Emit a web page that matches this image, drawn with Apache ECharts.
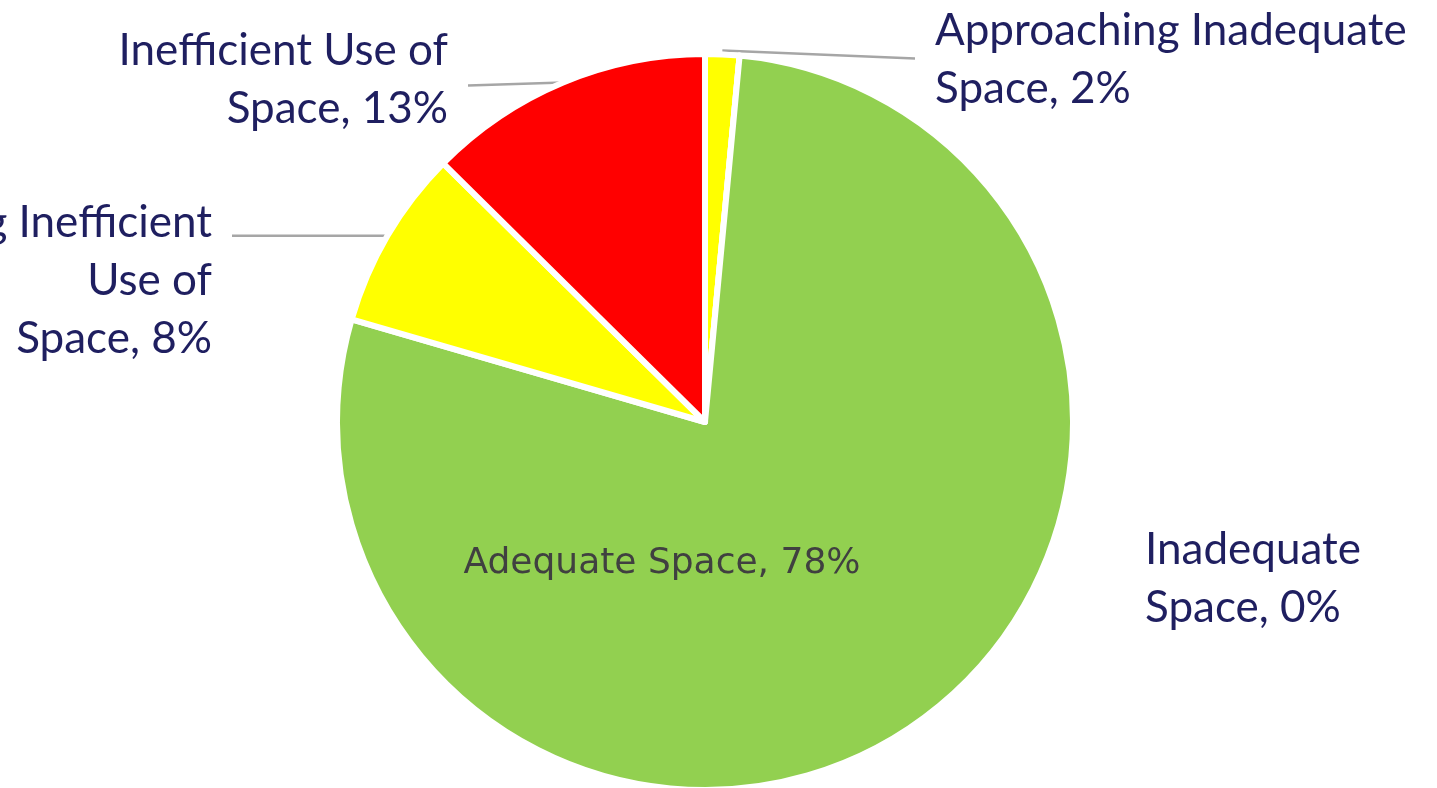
<!DOCTYPE html>
<html><head><meta charset="utf-8">
<script src="https://cdn.jsdelivr.net/npm/echarts@6/dist/echarts.min.js"></script>
<style>html,body{margin:0;padding:0;background:#fff;overflow:hidden}#chart{width:1437px;height:788px}</style>
</head><body><div id="chart"></div>
<script>
// ---- data ----
const categories = [
  'Approaching Inadequate\nSpace',
  'Inadequate\nSpace',
  'Adequate Space',
  'Approaching Inefficient\nUse of\nSpace',
  'Inefficient Use of\nSpace'
];
const shares = [1.5, 0, 78.0, 7.9, 12.6];
const sliceColors = ['#FFFF00', '#FFC000', '#92D050', '#FFFF00', '#FF0000'];

// ---- chart ----
const chart = echarts.init(document.getElementById('chart'), null, {renderer: 'canvas'});
const navy = '#1F1F60';
const data = categories.map((c, i) => {
  const item = { name: c, value: shares[i], itemStyle: { color: sliceColors[i] } };
  if (i === 1) item.labelLine = { show: false };
  if (i === 2) {
    item.labelLine = { show: false };
    item.label = { position: 'inside', fontFamily: 'DejaVu Sans', fontSize: 36, color: '#404040', lineHeight: 40 };
  }
  return item;
});

chart.setOption({
  animation: false,
  backgroundColor: '#ffffff',
  series: [{
    type: 'pie',
    center: [705, 422],
    radius: 368,
    startAngle: 90,
    clockwise: true,
    avoidLabelOverlap: false,
    silent: true,
    data: data,
    itemStyle: { borderColor: '#ffffff', borderWidth: 6 },
    label: {
      show: true,
      position: 'outside',
      overflow: 'none',
      fontFamily: 'Lato',
      fontSize: 44,
      lineHeight: 58,
      color: navy,
      formatter: p => p.name + ', ' + Math.round(p.percent) + '%'
    },
    labelLine: { show: true, lineStyle: { color: '#A6A6A6', width: 2.5 } },
    labelLayout: function (p) {
      const s = p.labelLinePoints ? p.labelLinePoints[0] : null;
      switch (p.dataIndex) {
        case 0: return { x: 935, y: 60, align: 'left', verticalAlign: 'middle',
                         labelLinePoints: s ? [[s[0], s[1] - 4], [s[0], s[1] - 4], [915, s[1] + 4]] : undefined };
        case 1: return { x: 1145, y: 579, align: 'left', verticalAlign: 'middle' };
        case 2: return { x: 662, y: 564, align: 'center', verticalAlign: 'middle' };
        case 3: return { x: 212, y: 281, align: 'right', verticalAlign: 'middle',
                         labelLinePoints: s ? [s, s, [232, s[1]]] : undefined };
        case 4: return { x: 448, y: 80, align: 'right', verticalAlign: 'middle',
                         labelLinePoints: s ? [s, s, [468, s[1] + 3]] : undefined };
      }
      return {};
    }
  }]
});
</script></body></html>
